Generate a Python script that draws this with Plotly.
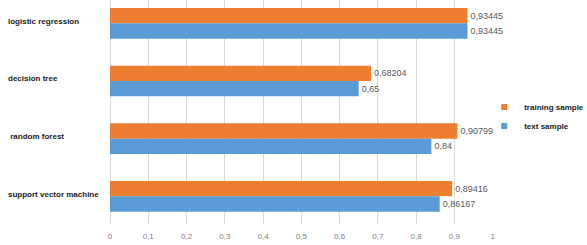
import plotly.graph_objects as go

categories = ["logistic regression", "decision tree", " random forest", "support vector machine"]
training_sample = [0.93445, 0.68204, 0.90799, 0.89416]
text_sample = [0.93445, 0.65, 0.84, 0.86167]
x_ticks = [0, 0.1, 0.2, 0.3, 0.4, 0.5, 0.6, 0.7, 0.8, 0.9, 1]

ORANGE = "#ED7D31"
BLUE = "#5B9BD5"
FONT = "Liberation Sans, Arial, sans-serif"


def fmt(v):
    return f"{v:g}".replace(".", ",")


fig = go.Figure()
fig.add_trace(go.Bar(
    y=categories, x=training_sample, orientation="h", name="training sample",
    marker=dict(color=ORANGE, line=dict(width=0)),
    text=[fmt(v) for v in training_sample], textposition="outside",
    textfont=dict(family=FONT, size=9, color="#595959"),
    cliponaxis=False, showlegend=False,
))
fig.add_trace(go.Bar(
    y=categories, x=text_sample, orientation="h", name="text sample",
    marker=dict(color=BLUE, line=dict(width=0)),
    text=[fmt(v) for v in text_sample], textposition="outside",
    textfont=dict(family=FONT, size=9, color="#595959"),
    cliponaxis=False, showlegend=False,
))
# legend entries (small square swatches)
fig.add_trace(go.Scatter(x=[None], y=[None], mode="markers", name="training sample",
                         marker=dict(symbol="square", size=6, color=ORANGE)))
fig.add_trace(go.Scatter(x=[None], y=[None], mode="markers", name="text sample",
                         marker=dict(symbol="square", size=6, color=BLUE)))

for c in categories:
    fig.add_annotation(
        x=-0.2705, xref="paper", y=c, yref="y", text=c, showarrow=False,
        xanchor="left", yanchor="middle", yshift=2,
        font=dict(family=FONT, size=8, color="#1a1a1a", weight="bold"),
    )

fig.update_layout(
    width=587, height=245,
    margin=dict(l=110, r=94, t=0, b=21, autoexpand=False),
    paper_bgcolor="white", plot_bgcolor="white",
    separators=", ",
    barmode="group", bargap=0.468, bargroupgap=0,
    font=dict(family=FONT),
    legend=dict(
        x=0.977, xanchor="left", y=0.587, yanchor="top",
        font=dict(family=FONT, size=8, color="#1a1a1a", weight="bold"),
        bgcolor="rgba(0,0,0,0)", tracegroupgap=0,
    ),
    xaxis=dict(
        range=[0, 1.001], tickvals=x_ticks, showgrid=True, gridcolor="#D9D9D9", gridwidth=1,
        zeroline=True, zerolinecolor="#D9D9D9", zerolinewidth=1,
        showline=False, ticks="outside", ticklen=4, tickcolor="white",
        tickfont=dict(family=FONT, size=8, color="#7f7f7f"),
    ),
    yaxis=dict(
        type="category", categoryorder="array", categoryarray=categories,
        range=[3.48, -0.404], showticklabels=False, showgrid=False, zeroline=False,
        showline=False, ticks="",
    ),
)

fig.write_html(
    "out.html",
    config={"displayModeBar": False},
    post_script="document.body.style.margin='0';document.body.style.padding='0';",
)
